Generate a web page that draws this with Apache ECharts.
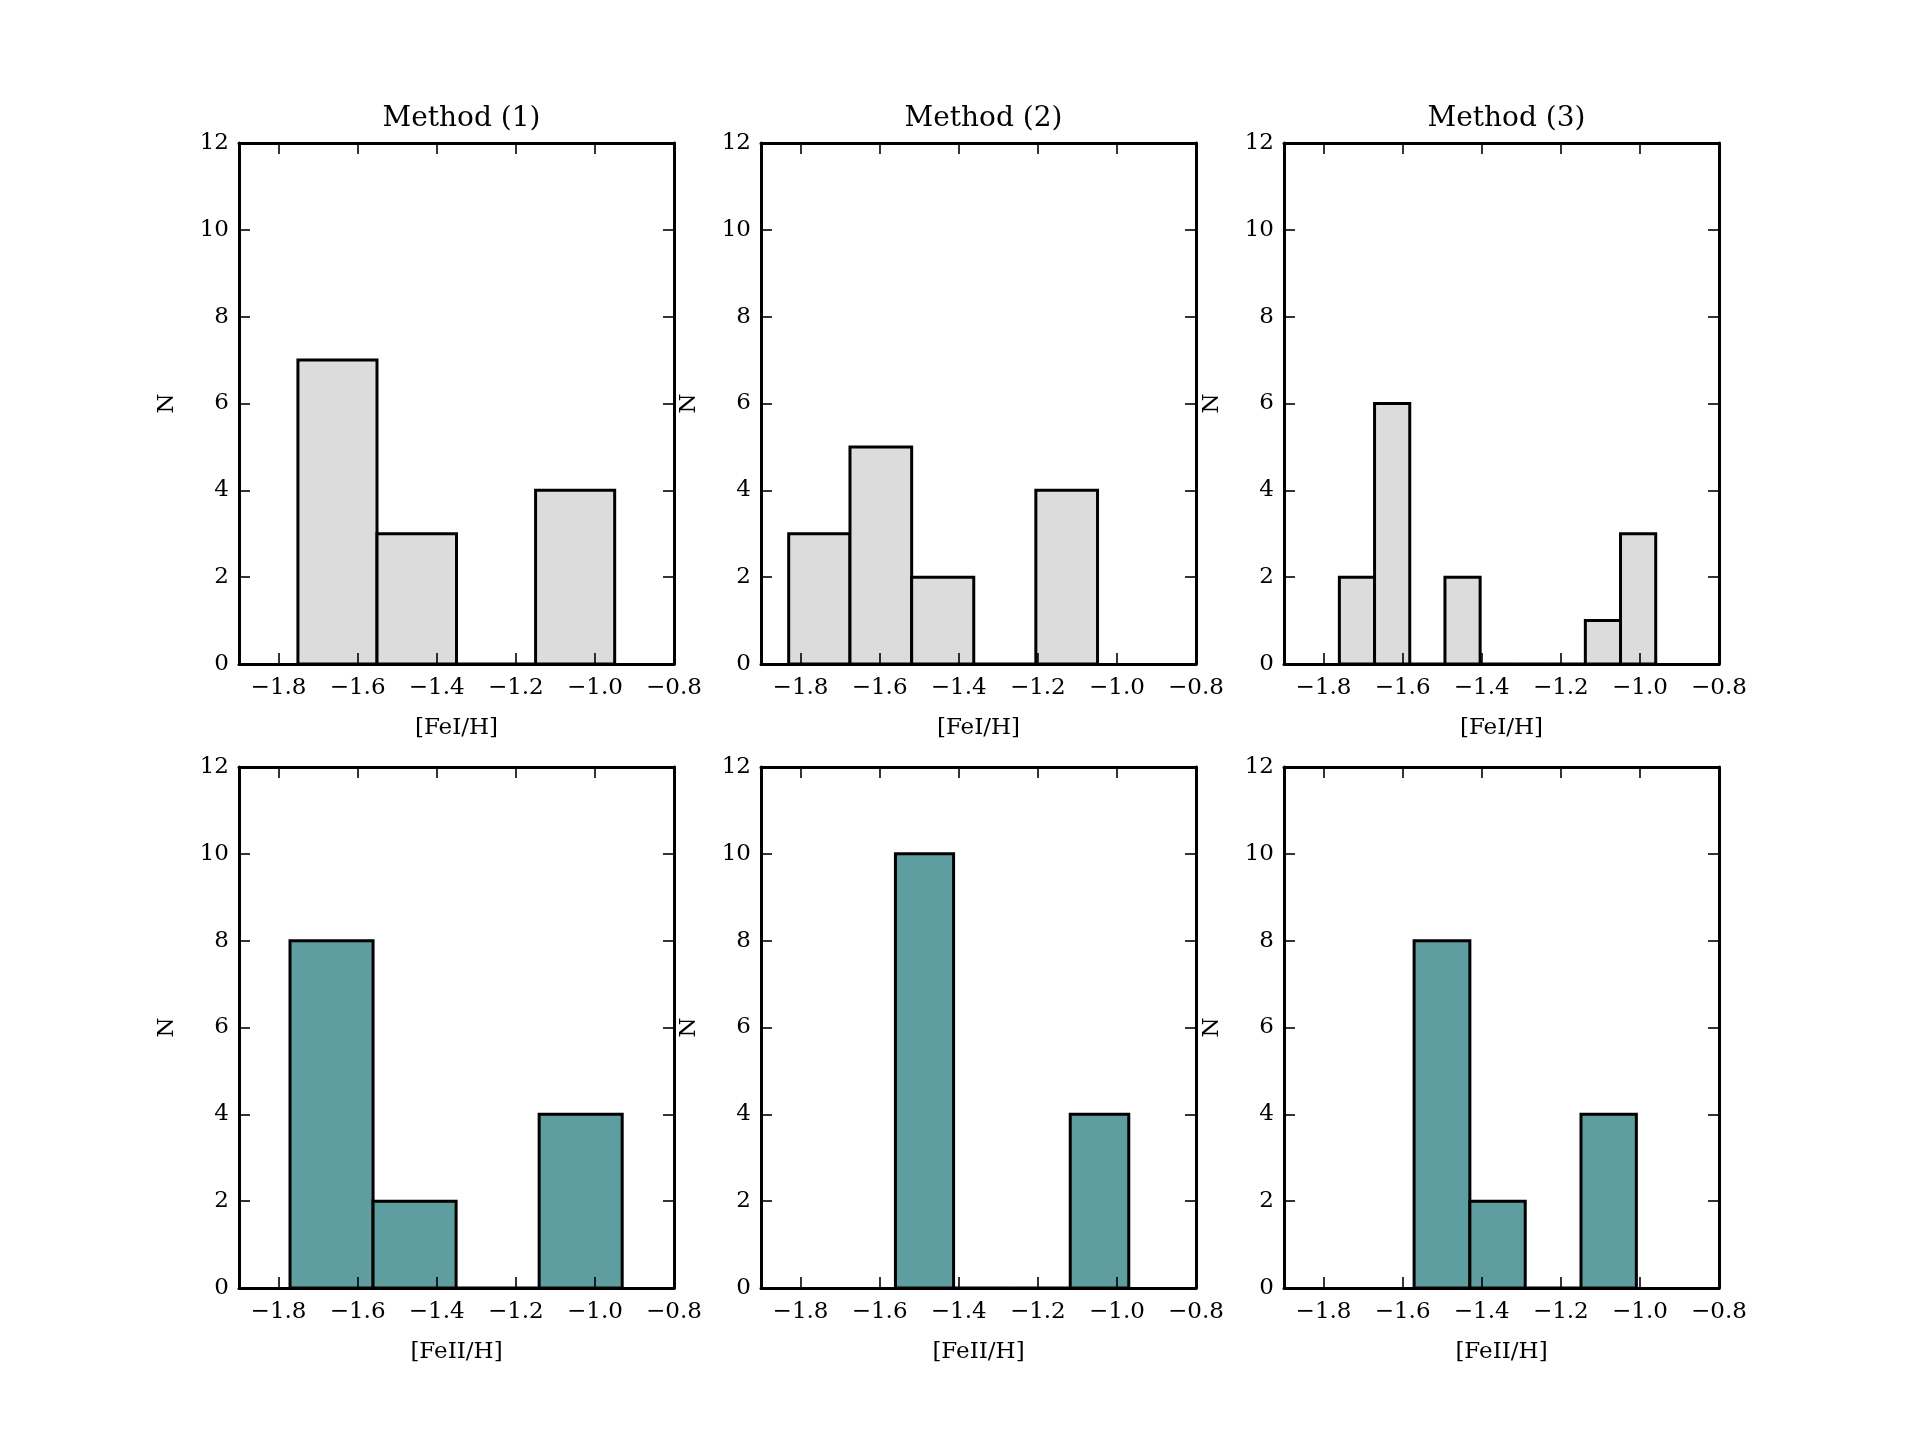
<!DOCTYPE html>
<html>
<head>
<meta charset="utf-8">
<script src="https://cdn.jsdelivr.net/npm/echarts@6/dist/echarts.min.js"></script>
<style>
html,body{margin:0;padding:0;background:#fff;}
#chart{width:1910px;height:1432px;}
</style>
</head>
<body>
<div id="chart"></div>
<script>
// ---- data ----
const columnTitles = ['Method (1)', 'Method (2)', 'Method (3)'];
const rowXLabels = ['[FeI/H]', '[FeII/H]'];
const yLabel = 'N';
const xTicks = [-1.8, -1.6, -1.4, -1.2, -1.0, -0.8];
const yTicks = [0, 2, 4, 6, 8, 10, 12];

// FeI histograms (top row)
const feI_m1_edges = [-1.751, -1.551, -1.350, -1.150, -0.950];
const feI_m1_counts = [7, 3, 0, 4];
const feI_m2_edges = [-1.830, -1.675, -1.519, -1.362, -1.205, -1.049];
const feI_m2_counts = [3, 5, 2, 0, 4];
const feI_m3_edges = [-1.760, -1.671, -1.582, -1.493, -1.404, -1.315, -1.227, -1.138, -1.049, -0.960];
const feI_m3_counts = [2, 6, 0, 2, 0, 0, 0, 1, 3];

// FeII histograms (bottom row)
const feII_m1_edges = [-1.771, -1.561, -1.351, -1.141, -0.931];
const feII_m1_counts = [8, 2, 0, 4];
const feII_m2_edges = [-1.560, -1.413, -1.266, -1.118, -0.970];
const feII_m2_counts = [10, 0, 0, 4];
const feII_m3_edges = [-1.571, -1.430, -1.290, -1.149, -1.009];
const feII_m3_counts = [8, 2, 0, 4];

const panels = [
  {row: 0, col: 0, edges: feI_m1_edges, counts: feI_m1_counts},
  {row: 0, col: 1, edges: feI_m2_edges, counts: feI_m2_counts},
  {row: 0, col: 2, edges: feI_m3_edges, counts: feI_m3_counts},
  {row: 1, col: 0, edges: feII_m1_edges, counts: feII_m1_counts},
  {row: 1, col: 1, edges: feII_m2_edges, counts: feII_m2_counts},
  {row: 1, col: 2, edges: feII_m3_edges, counts: feII_m3_counts}
];

// ---- layout / style ----
const colLeft = [239, 761, 1284];
const rowTop = [143, 767];
const plotW = 435, plotH = 521;
const rowFill = ['#dcdcdc', '#5f9ea0'];
const FONT = 'DejaVu Serif';
const fmtMinus = v => (v < 0 ? '\u2212' : '') + Math.abs(v).toFixed(1);

const grids = [], xAxes = [], yAxes = [], series = [], titles = [];

panels.forEach((p, i) => {
  grids.push({left: colLeft[p.col], top: rowTop[p.row], width: plotW, height: plotH, containLabel: false});
  const axLine = {show: true, onZero: false, lineStyle: {color: '#000', width: 3}};
  const tick = {show: true, inside: true, length: 11, lineStyle: {color: '#000', width: 1.6}, customValues: xTicks};
  // bottom x
  xAxes.push({
    type: 'value', gridIndex: i, position: 'bottom', min: -1.9, max: -0.8, z: 5,
    axisLine: axLine, axisTick: tick, splitLine: {show: false},
    axisLabel: {show: true, margin: 13, color: '#000', fontFamily: FONT, fontSize: 23,
      customValues: xTicks, formatter: fmtMinus},
    name: rowXLabels[p.row], nameLocation: 'middle', nameGap: 53,
    nameTextStyle: {color: '#000', fontFamily: FONT, fontSize: 23}
  });
  // top x (mirror)
  xAxes.push({
    type: 'value', gridIndex: i, position: 'top', min: -1.9, max: -0.8, z: 5,
    axisLine: axLine, axisTick: tick, splitLine: {show: false}, axisLabel: {show: false}
  });
  const ytick = {show: true, inside: true, length: 11, lineStyle: {color: '#000', width: 1.6}};
  yAxes.push({
    type: 'value', gridIndex: i, position: 'left', min: 0, max: 12, interval: 2, z: 5,
    axisLine: axLine, axisTick: ytick, splitLine: {show: false},
    axisLabel: {show: true, margin: 10, color: '#000', fontFamily: FONT, fontSize: 23},
    name: yLabel, nameLocation: 'middle', nameGap: 60,
    nameTextStyle: {color: '#000', fontFamily: FONT, fontSize: 23}
  });
  yAxes.push({
    type: 'value', gridIndex: i, position: 'right', min: 0, max: 12, interval: 2, z: 5,
    axisLine: axLine, axisTick: ytick, splitLine: {show: false}, axisLabel: {show: false}
  });
  const data = p.counts.map((c, k) => [p.edges[k], p.edges[k + 1], c]);
  const fill = rowFill[p.row];
  series.push({
    type: 'custom', xAxisIndex: 2 * i, yAxisIndex: 2 * i, z: 2,
    encode: {x: [0, 1], y: 2},
    data: data,
    renderItem: function (params, api) {
      const x0 = api.value(0), x1 = api.value(1), c = api.value(2);
      const a = api.coord([x0, 0]);
      const b = api.coord([x1, c]);
      return {
        type: 'rect',
        shape: {x: a[0], y: b[1], width: b[0] - a[0], height: a[1] - b[1]},
        style: {fill: fill, stroke: '#000', lineWidth: 3}
      };
    }
  });
});

columnTitles.forEach((t, c) => {
  titles.push({
    text: t, left: colLeft[c] + plotW / 2, top: 100, textAlign: 'center',
    textStyle: {color: '#000', fontFamily: FONT, fontSize: 28, fontWeight: 'normal'}
  });
});

const chart = echarts.init(document.getElementById('chart'), null, {renderer: 'canvas'});
chart.setOption({
  backgroundColor: '#fff',
  animation: false,
  title: titles,
  grid: grids,
  xAxis: xAxes,
  yAxis: yAxes,
  series: series
});
</script>
</body>
</html>
